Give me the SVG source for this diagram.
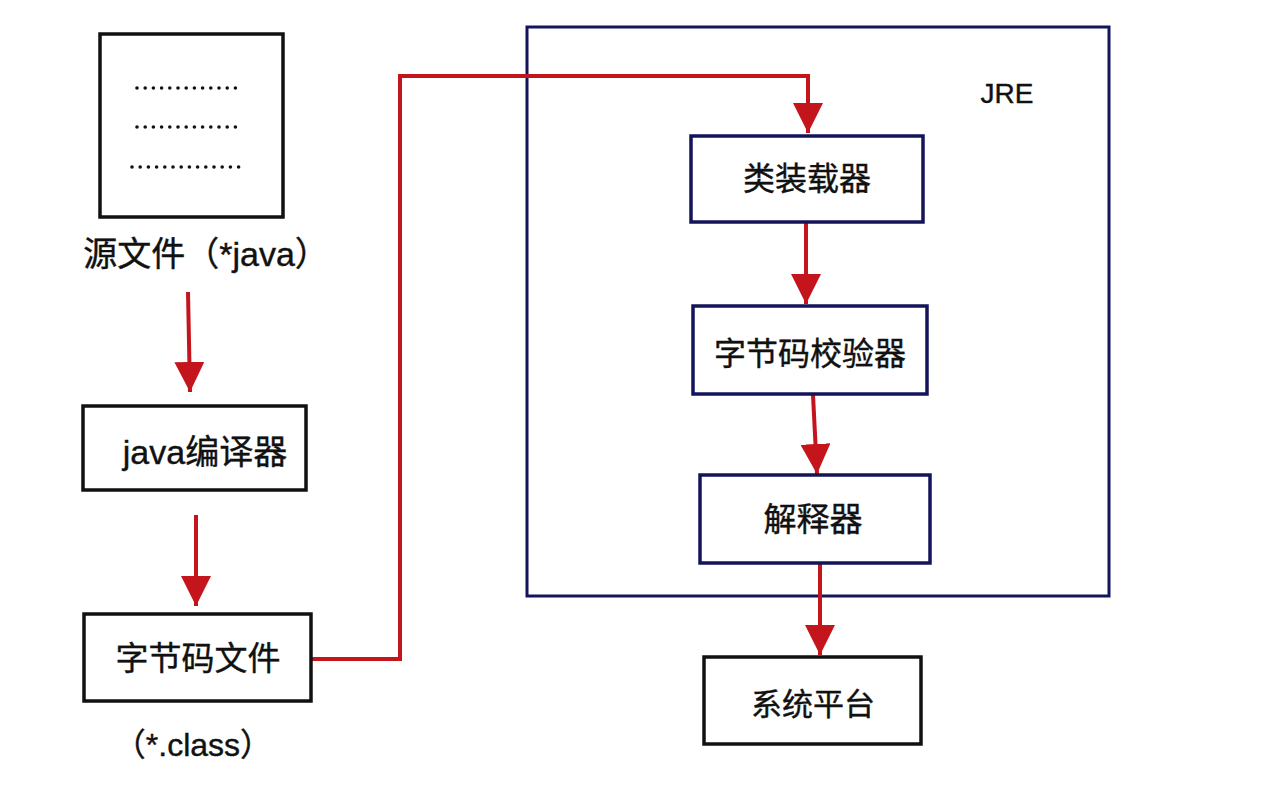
<svg xmlns="http://www.w3.org/2000/svg" width="1278" height="810" viewBox="0 0 1278 810">
<defs>
<style>
.bk{fill:#fff;stroke:#111;stroke-width:3.5}
.nv{fill:#fff;stroke:#14145a;stroke-width:3.5}
.t{font-family:"Liberation Sans","Noto Sans CJK SC",sans-serif;font-size:32px;fill:#111;stroke:#111;stroke-width:0.4;text-anchor:middle;dominant-baseline:central}
.c{stroke:#c4141c;stroke-width:4;fill:none}
.dots{stroke:#111;stroke-width:3.6;stroke-linecap:round;stroke-dasharray:0 8.2;fill:none}
</style>
<marker id="ah" markerWidth="32" markerHeight="30" refX="30" refY="15" orient="auto" markerUnits="userSpaceOnUse">
<path d="M0,0 L30,15 L0,30 Z" fill="#c4141c"/>
</marker>
</defs>
<rect width="1278" height="810" fill="#fff"/>
<g id="jre">
<rect x="527" y="27" width="582" height="569" fill="none" stroke="#14145a" stroke-width="3"/>
<text class="t" x="1007" y="93" style="font-size:28px">JRE</text>
</g>
<g id="connectors">
<line class="c" x1="188" y1="292" x2="190" y2="392" marker-end="url(#ah)"/>
<line class="c" x1="196" y1="515" x2="196" y2="606" marker-end="url(#ah)"/>
<polyline class="c" points="311,659 400,659 400,76 808,76 808,133" marker-end="url(#ah)"/>
<line class="c" x1="806" y1="223" x2="806" y2="304" marker-end="url(#ah)"/>
<line class="c" x1="813" y1="395" x2="817" y2="474" marker-end="url(#ah)"/>
<line class="c" x1="820" y1="563" x2="820" y2="655" marker-end="url(#ah)"/>
</g>
<g id="source">
<rect class="bk" x="100" y="34" width="183" height="183"/>
<line class="dots" x1="137" y1="88" x2="242" y2="88"/>
<line class="dots" x1="137" y1="127" x2="242" y2="127"/>
<line class="dots" x1="132" y1="167" x2="246" y2="167"/>
<text class="t" x="206" y="254" style="font-size:34px">源文件（*java）</text>
</g>
<g id="compiler">
<rect class="bk" x="83" y="406" width="223" height="84"/>
<text class="t" x="205" y="452" style="font-size:34px">java编译器</text>
</g>
<g id="bytecode">
<rect class="bk" x="84" y="614" width="227" height="87"/>
<text class="t" x="198" y="658" style="font-size:33px">字节码文件</text>
<text class="t" x="193" y="745">（*.class）</text>
</g>
<g id="loader">
<rect class="nv" x="691" y="136" width="232" height="86"/>
<text class="t" x="807" y="179">类装载器</text>
</g>
<g id="verifier">
<rect class="nv" x="693" y="306" width="234" height="88"/>
<text class="t" x="810" y="354">字节码校验器</text>
</g>
<g id="interpreter">
<rect class="nv" x="700" y="475" width="230" height="88"/>
<text class="t" x="813" y="519" style="font-size:33px">解释器</text>
</g>
<g id="platform">
<rect class="bk" x="704" y="657" width="217" height="87"/>
<text class="t" x="813" y="704" style="font-size:31px">系统平台</text>
</g>
</svg>
